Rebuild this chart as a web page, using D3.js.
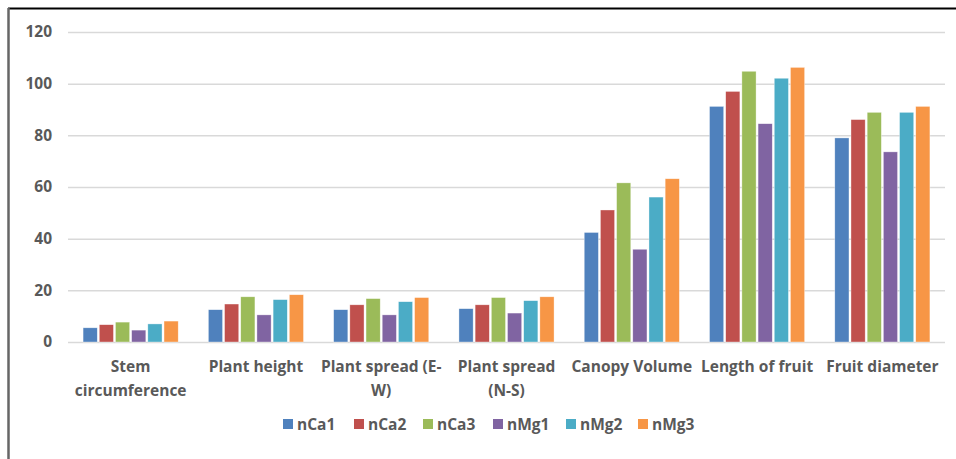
<!DOCTYPE html>
<html><head><meta charset="utf-8">
<script src="https://cdn.jsdelivr.net/npm/d3@7"></script>
<style>body{margin:0;background:#fff}svg{display:block}</style>
</head><body>
<svg id="c" width="956" height="459"></svg>
<script>
const categories = [["Stem","circumference"],["Plant height"],["Plant spread (E-","W)"],["Plant spread","(N-S)"],["Canopy Volume"],["Length of fruit"],["Fruit diameter"]];
const seriesNames = ["nCa1","nCa2","nCa3","nMg1","nMg2","nMg3"];
const nCa1 = [5.5, 12.5, 12.5, 12.9, 42.4, 91.2, 79.0];
const nCa2 = [6.7, 14.7, 14.4, 14.4, 51.1, 97.0, 86.1];
const nCa3 = [7.7, 17.5, 16.8, 17.2, 61.6, 104.8, 88.9];
const nMg1 = [4.6, 10.5, 10.5, 11.2, 35.9, 84.5, 73.6];
const nMg2 = [7.0, 16.4, 15.6, 16.0, 56.1, 102.1, 88.9];
const nMg3 = [8.1, 18.3, 17.2, 17.5, 63.2, 106.3, 91.2];
const yTicks = [0,20,40,60,80,100,120];
const colors = ["#4F81BD","#C0504D","#9BBB59","#8064A2","#4BACC6","#F79646"];
const seriesValues = [nCa1,nCa2,nCa3,nMg1,nMg2,nMg3];

const svg = d3.select("#c");
const pL = 68, pR = 945, pT = 32, pB = 342;
const font = "'Open Sans', sans-serif";
const fw = 700, fs = "15.5px";

// frame
svg.append("line").attr("x1",8).attr("x2",956).attr("y1",8.5).attr("y2",8.5).attr("stroke","#000").attr("stroke-width",2);
svg.append("line").attr("x1",8.5).attr("x2",8.5).attr("y1",8).attr("y2",459).attr("stroke","#666").attr("stroke-width",2.5);

const y = d3.scaleLinear().domain([0,120]).range([pB, pT]);
const x0 = d3.scaleBand().domain(d3.range(categories.length)).range([pL, pR]).paddingInner(0).paddingOuter(0);
const x1 = d3.scaleBand().domain(d3.range(seriesNames.length)).range([0, x0.bandwidth()]).paddingOuter(0.87).paddingInner(0);

// gridlines
const yAxis = d3.axisLeft(y).tickValues(yTicks).tickSize(-(pR-pL)).tickPadding(16);
const ga = svg.append("g").attr("transform",`translate(${pL},0)`).call(yAxis);
ga.select(".domain").remove();
ga.selectAll(".tick line").attr("stroke","#D9D9D9").attr("stroke-width",1.5);
ga.selectAll(".tick text").attr("fill","#595959").style("font-family",font).style("font-size",fs).style("font-weight",fw);

// bars
const groups = svg.append("g").selectAll("g").data(categories).join("g")
  .attr("transform",(d,i)=>`translate(${x0(i)},0)`);
groups.selectAll("rect").data((d,i)=>seriesValues.map((s,j)=>({j, v:s[i]}))).join("rect")
  .attr("x",d=>x1(d.j)+1).attr("width",x1.bandwidth()-2)
  .attr("y",d=>y(d.v)).attr("height",d=>pB-y(d.v))
  .attr("fill",d=>colors[d.j]).attr("stroke","#fff").attr("stroke-width",0.6).attr("stroke-opacity",0.6);

// category labels
const xl = svg.append("g");
categories.forEach((lines,i)=>{
  const t = xl.append("text").attr("x",x0(i)+x0.bandwidth()/2).attr("y",372)
    .attr("text-anchor","middle").attr("fill","#595959")
    .style("font-family",font).style("font-size",fs).style("font-weight",fw);
  lines.forEach((l,k)=>t.append("tspan").attr("x",x0(i)+x0.bandwidth()/2).attr("dy",k?24:0).text(l));
});

// legend
const legendX = [283,354,423,493,566,638];
const lg = svg.append("g");
seriesNames.forEach((n,i)=>{
  lg.append("rect").attr("x",legendX[i]).attr("y",419).attr("width",10).attr("height",10).attr("fill",colors[i]);
  lg.append("text").attr("x",legendX[i]+14).attr("y",430).text(n).attr("fill","#595959")
    .style("font-family",font).style("font-size",fs).style("font-weight",fw);
});
</script>
</body></html>
